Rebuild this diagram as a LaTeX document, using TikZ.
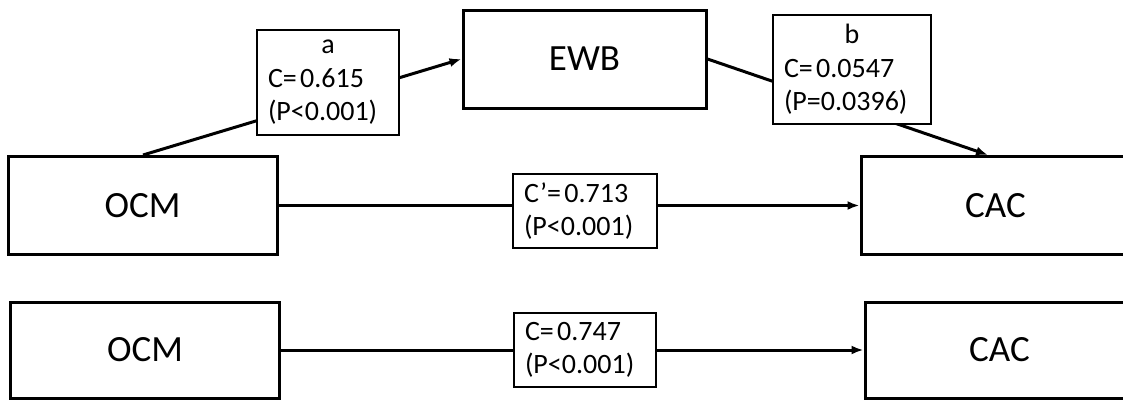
\documentclass[tikz,border=0pt]{standalone}
\usepackage{fontspec}
\setmainfont{Carlito}
\usetikzlibrary{arrows.meta}

\newcommand{\gap}{\hspace{0.12em}}
\tikzset{
	varbox/.style={draw, line width=3pt, minimum width=269pt, minimum height=98pt,
		inner sep=0pt, font=\fontsize{37}{44}\selectfont},
	coefbox/.style={draw, fill=white, line width=1.6pt, inner xsep=11pt, inner ysep=0pt,
		align=left, font=\fontsize{28}{33.5}\selectfont},
	path/.style={line width=3pt, -{Latex[length=12pt,width=9pt]}}
}

\begin{document}
\begin{tikzpicture}[x=1pt, y=-1pt]
\useasboundingbox[fill=white] (0,0) rectangle (1123,400);
\clip (0,0) rectangle (1123,400);
% mediation model
\node[varbox, minimum width=243pt] (ewb) at (584.5,59) {EWB};
\node[varbox] (ocm) at (142.5,205.5) {OCM};
\node[varbox] (cac) at (995.5,205.5) {CAC};
\draw[path] ([xshift=0.5pt]ocm.north) -- (ewb.west);
\draw[path] (ewb.east) -- ([xshift=-7.5pt]cac.north);
\draw[path] (ocm.east) -- (cac.west);
\node[coefbox, text width=120pt, minimum height=105pt] (pa) at (328,82.5)
	{\makebox[\linewidth]{a}\\C=\gap0.615\\(P<0.001)};
\node[coefbox, text width=136pt, minimum height=109pt] (pb) at (852,69.5)
	{\makebox[\linewidth]{b}\\C=\gap0.0547\\(P=0.0396)};
\node[coefbox, text width=122pt, minimum height=74pt] (pc1) at (585,211)
	{C’=\gap0.713\\(P<0.001)};
% total effect
\node[varbox, minimum height=96pt] (ocm2) at (145,350) {OCM};
\node[varbox, minimum height=96pt] (cac2) at (999.5,350) {CAC};
\draw[path] (ocm2.east) -- (cac2.west);
\node[coefbox, text width=120pt, minimum height=74pt] (pc) at (585,350)
	{C=\gap0.747\\(P<0.001)};
\end{tikzpicture}
\end{document}
